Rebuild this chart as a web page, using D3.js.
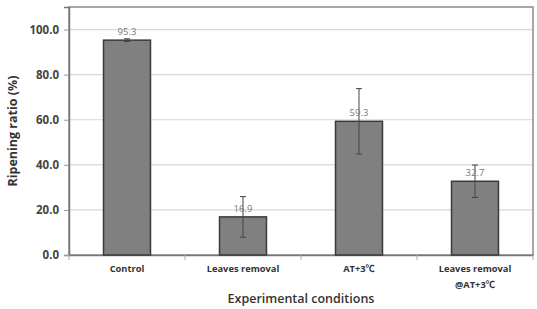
<!DOCTYPE html>
<html><head><meta charset="utf-8">
<script src="https://cdn.jsdelivr.net/npm/d3@7"></script>
<style>body{margin:0;background:#fff}svg{display:block}</style>
</head><body>
<svg id="c" width="537" height="309"></svg>
<script>
const categories = [["Control"], ["Leaves removal"], ["AT+3℃"], ["Leaves removal", "@AT+3℃"]];
const values = [95.3, 16.9, 59.3, 32.7];
const errors = [0.6, 9.0, 14.5, 7.2];
const yTicks = [0, 20, 40, 60, 80, 100];

const svg = d3.select("#c");
const m = {l: 69, r: 4, t: 7, b: 54};
const W = 537, H = 309;
const x = d3.scaleBand().domain(d3.range(categories.length)).range([m.l, W - m.r]).paddingInner(0).paddingOuter(0);
const y = d3.scaleLinear().domain([0, 110]).range([H - m.b, m.t]);
const font = "'Open Sans', 'Noto Sans CJK SC', sans-serif";

// grid
svg.append("g").selectAll("line").data(yTicks.filter(d => d > 0)).join("line")
  .attr("x1", m.l).attr("x2", W - m.r).attr("y1", d => y(d)).attr("y2", d => y(d))
  .attr("stroke", "#d9d9d9").attr("stroke-width", 1.2);

// border
svg.append("rect").attr("x", m.l).attr("y", m.t).attr("width", W - m.r - m.l).attr("height", y(0) - m.t)
  .attr("fill", "none").attr("stroke", "#8a8a8a").attr("stroke-width", 1.5);

// y axis
const ya = svg.append("g").attr("transform", `translate(${m.l},0)`)
  .call(d3.axisLeft(y).tickValues(yTicks).tickSize(5).tickPadding(5).tickFormat(d3.format(".1f")));
ya.select(".domain").attr("stroke", "#777").attr("stroke-width", 1.5);
ya.selectAll(".tick line").attr("stroke", "#999");
ya.selectAll("text").attr("font-family", font).attr("font-weight", "bold").attr("font-size", 11.5).attr("fill", "#444");

// x axis
const xa = svg.append("g").attr("transform", `translate(0,${y(0)})`)
  .call(d3.axisBottom(x).tickSize(0).tickFormat(""));
xa.select(".domain").attr("stroke", "#777").attr("stroke-width", 1.5);
svg.append("g").selectAll("line").data(d3.range(categories.length + 1)).join("line")
  .attr("x1", i => m.l + i * x.bandwidth()).attr("x2", i => m.l + i * x.bandwidth())
  .attr("y1", y(0)).attr("y2", y(0) + 5).attr("stroke", "#aaa");

// x labels
const lab = svg.append("g").selectAll("text").data(categories).join("text")
  .attr("x", (d, i) => x(i) + x.bandwidth() / 2).attr("y", y(0) + 17)
  .attr("text-anchor", "middle").attr("font-family", font).attr("font-weight", "bold")
  .attr("font-size", 9.3).attr("fill", "#333");
lab.selectAll("tspan").data(d => d).join("tspan")
  .attr("x", function() { return this.parentNode.getAttribute("x"); })
  .attr("dy", (d, j) => j === 0 ? 0 : 16).text(d => d);

// bars
const bw = x.bandwidth() * 0.405;
svg.append("g").selectAll("rect").data(values).join("rect")
  .attr("x", (d, i) => x(i) + x.bandwidth() / 2 - bw / 2).attr("y", d => y(d))
  .attr("width", bw).attr("height", d => y(0) - y(d))
  .attr("fill", "#808080").attr("stroke", "#3a3a3a").attr("stroke-width", 1.5);

// error bars
const eg = svg.append("g").attr("stroke", "#444").attr("stroke-width", 1);
values.forEach((v, i) => {
  const cx = x(i) + x.bandwidth() / 2;
  eg.append("line").attr("x1", cx).attr("x2", cx).attr("y1", y(v + errors[i])).attr("y2", y(v - errors[i]));
  eg.append("line").attr("x1", cx - 3).attr("x2", cx + 3).attr("y1", y(v + errors[i])).attr("y2", y(v + errors[i]));
  eg.append("line").attr("x1", cx - 3).attr("x2", cx + 3).attr("y1", y(v - errors[i])).attr("y2", y(v - errors[i]));
});

// value labels
svg.append("g").selectAll("text").data(values).join("text")
  .attr("x", (d, i) => x(i) + x.bandwidth() / 2).attr("y", d => y(d) - 5)
  .attr("text-anchor", "middle").attr("font-family", font).attr("font-size", 9.5)
  .attr("fill", "#7a7a7a").text(d => d.toFixed(1));

// axis titles
svg.append("text").attr("x", (m.l + W - m.r) / 2).attr("y", 303).attr("text-anchor", "middle")
  .attr("font-family", font).attr("font-size", 12.5).attr("font-weight", 600).attr("fill", "#333")
  .text("Experimental conditions");
svg.append("text").attr("transform", `translate(17,${(m.t + y(0)) / 2}) rotate(-90)`).attr("text-anchor", "middle")
  .attr("font-family", font).attr("font-size", 12.5).attr("font-weight", "bold").attr("fill", "#333")
  .text("Ripening ratio (%)");
</script>
</body></html>
